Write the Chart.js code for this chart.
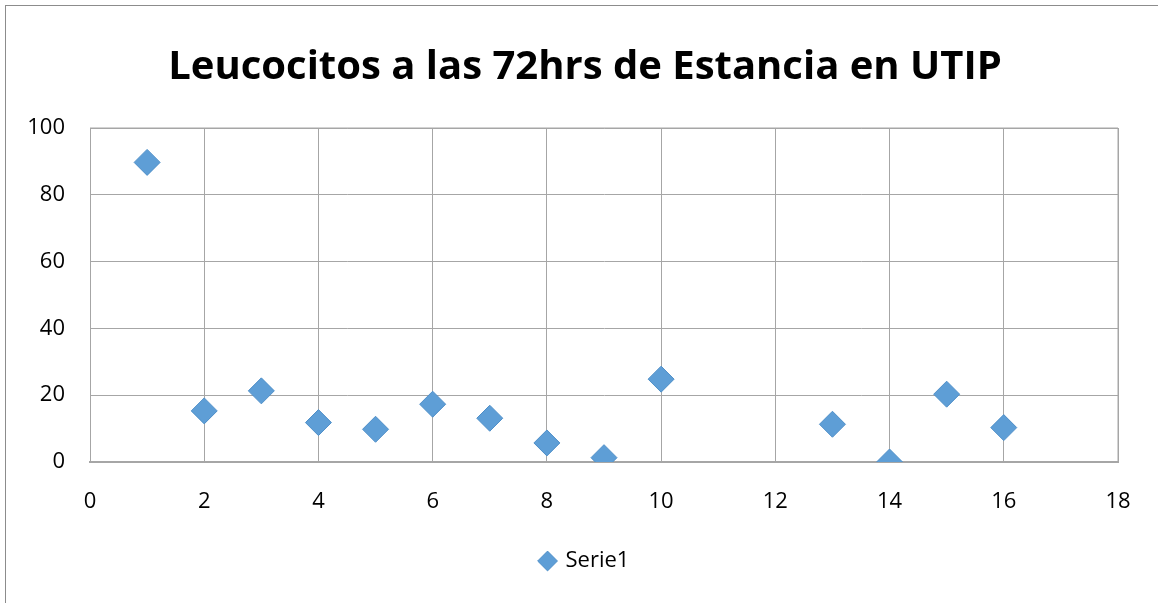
<!DOCTYPE html>
<html>
<head>
<meta charset="utf-8">
<script src="https://cdn.jsdelivr.net/npm/chart.js@4/dist/chart.umd.min.js"></script>
<style>
  html, body { margin: 0; padding: 0; background: #fff; }
  #wrap { position: relative; width: 1158px; height: 603px; overflow: hidden; }
  #frame { position: absolute; left: 5px; top: 5px; width: 1200px; height: 700px; border: 1px solid #8c8c8c; box-sizing: border-box; }
  canvas { position: absolute; left: 0; top: 0; }
</style>
</head>
<body>
<div id="wrap">
  <div id="frame"></div>
  <canvas id="c" width="1158" height="603"></canvas>
</div>
<script>
// Leucocitos por paciente a las 72 horas de estancia
const patients = [1, 2, 3, 4, 5, 6, 7, 8, 9, 10, 13, 14, 15, 16];
const leucocitos = [89.7, 15.3, 21.3, 11.8, 9.8, 17.3, 13.1, 5.7, 1.3, 24.8, 11.3, 0, 20.3, 10.3];
const xTicks = [0, 2, 4, 6, 8, 10, 12, 14, 16, 18];
const yTicks = [0, 20, 40, 60, 80, 100];
const seriesName = 'Serie1';
const chartTitle = 'Leucocitos a las 72hrs de Estancia en UTIP';

const points = patients.map((x, i) => ({ x: x, y: leucocitos[i] }));
const FONT = "'Open Sans', 'Noto Sans', sans-serif";
const gridColor = '#a6a6a6';

new Chart(document.getElementById('c'), {
  type: 'scatter',
  data: {
    datasets: [{
      label: seriesName,
      data: points,
      pointStyle: 'rectRot',
      pointRadius: 13,
      pointHoverRadius: 13,
      backgroundColor: '#5e9ed6',
      borderColor: '#4f8fc8',
      borderWidth: 1
    }]
  },
  options: {
    responsive: false,
    animation: false,
    layout: { padding: { left: 12, right: 0, top: 0, bottom: 21 } },
    plugins: {
      title: {
        display: true,
        text: chartTitle,
        color: '#000',
        font: { family: FONT, size: 40, weight: 'bold' },
        padding: { top: 44, bottom: 36 }
      },
      legend: {
        display: true,
        position: 'bottom',
        labels: {
          usePointStyle: true,
          pointStyle: 'rectRot',
          boxWidth: 14,
          boxHeight: 14,
          color: '#000',
          font: { family: FONT, size: 22 },
          padding: 8
        }
      },
      tooltip: { enabled: false }
    },
    scales: {
      x: {
        type: 'linear',
        min: 0,
        max: 18,
        afterBuildTicks: (s) => { s.ticks = xTicks.map(v => ({ value: v })); },
        afterFit: (s) => { s.height = 80; },
        grid: { color: gridColor, lineWidth: 1, drawTicks: false },
        border: { color: gridColor, width: 2 },
        ticks: { color: '#000', font: { family: FONT, size: 22 }, padding: 27, maxRotation: 0 }
      },
      y: {
        type: 'linear',
        min: 0,
        max: 100,
        afterBuildTicks: (s) => { s.ticks = yTicks.map(v => ({ value: v })); },
        afterFit: (s) => { s.width = 78; },
        grid: { color: gridColor, lineWidth: 1, drawTicks: false },
        border: { color: gridColor, width: 1 },
        ticks: { color: '#000', font: { family: FONT, size: 22 }, padding: 25 }
      },
      yRight: {
        type: 'linear',
        position: 'right',
        min: 0,
        max: 100,
        afterFit: (s) => { s.width = 40; },
        grid: { drawOnChartArea: false, drawTicks: false },
        border: { display: false },
        ticks: { display: false }
      }
    }
  },
  plugins: [{
    id: 'plotFrame',
    afterDraw(chart) {
      const a = chart.chartArea, ctx = chart.ctx;
      ctx.save();
      ctx.strokeStyle = gridColor;
      ctx.lineWidth = 1;
      ctx.beginPath();
      ctx.moveTo(a.right, a.top);
      ctx.lineTo(a.right, a.bottom);
      ctx.moveTo(a.left, a.top);
      ctx.lineTo(a.right, a.top);
      ctx.stroke();
      ctx.restore();
    }
  }]
});
</script>
</body>
</html>
